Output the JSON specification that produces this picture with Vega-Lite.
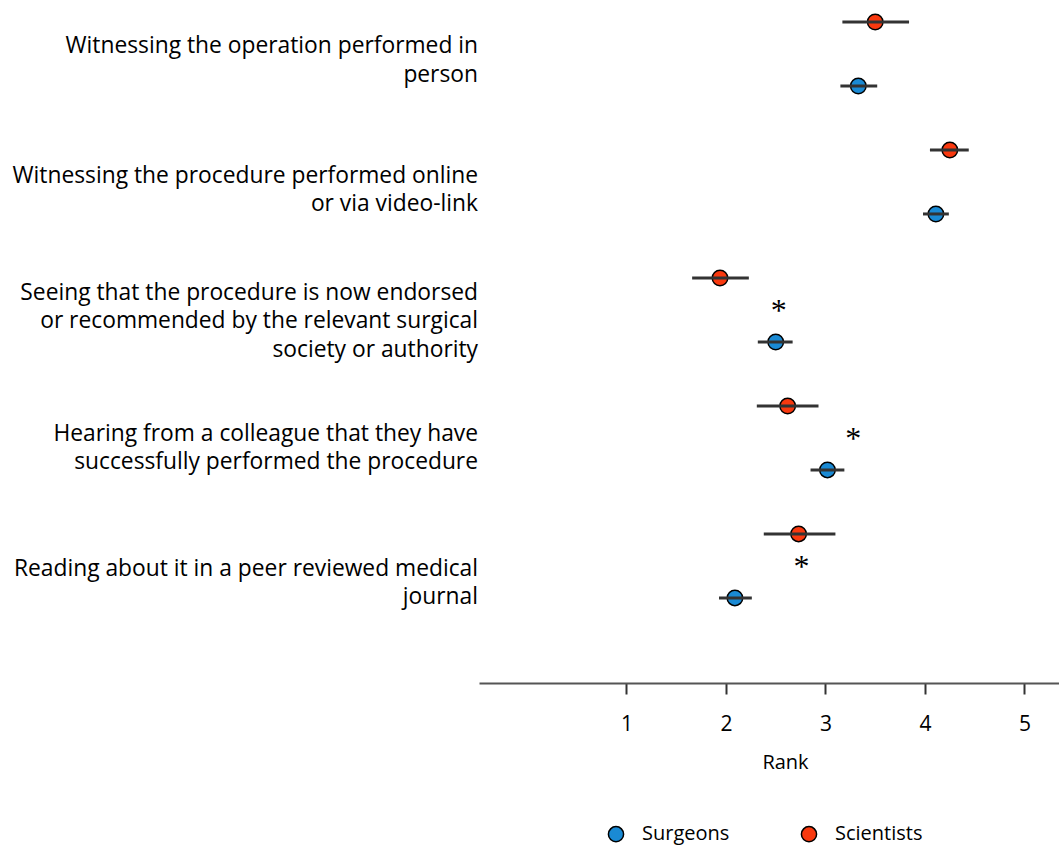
{
  "$schema": "https://vega.github.io/schema/vega-lite/v6.json",
  "width": 580,
  "height": 683,
  "autosize": {"type": "none"},
  "padding": {"left": 479, "top": 0, "right": 0, "bottom": 162},
  "background": "white",
  "config": {"view": {"stroke": null}, "font": "Open Sans"},
  "datasets": {
    "est": [
      {"item": "Witnessing the operation performed in person", "group": "Scientists", "row": 1, "mean": 3.50, "lo": 3.17, "hi": 3.84},
      {"item": "Witnessing the operation performed in person", "group": "Surgeons", "row": 2, "mean": 3.33, "lo": 3.15, "hi": 3.52},
      {"item": "Witnessing the procedure performed online or via video-link", "group": "Scientists", "row": 3, "mean": 4.25, "lo": 4.05, "hi": 4.44},
      {"item": "Witnessing the procedure performed online or via video-link", "group": "Surgeons", "row": 4, "mean": 4.11, "lo": 3.98, "hi": 4.24},
      {"item": "Seeing that the procedure is now endorsed or recommended by the relevant surgical society or authority", "group": "Scientists", "row": 5, "mean": 1.94, "lo": 1.66, "hi": 2.23},
      {"item": "Seeing that the procedure is now endorsed or recommended by the relevant surgical society or authority", "group": "Surgeons", "row": 6, "mean": 2.50, "lo": 2.32, "hi": 2.67},
      {"item": "Hearing from a colleague that they have successfully performed the procedure", "group": "Scientists", "row": 7, "mean": 2.62, "lo": 2.31, "hi": 2.93},
      {"item": "Hearing from a colleague that they have successfully performed the procedure", "group": "Surgeons", "row": 8, "mean": 3.02, "lo": 2.85, "hi": 3.19},
      {"item": "Reading about it in a peer reviewed medical journal", "group": "Scientists", "row": 9, "mean": 2.73, "lo": 2.38, "hi": 3.10},
      {"item": "Reading about it in a peer reviewed medical journal", "group": "Surgeons", "row": 10, "mean": 2.09, "lo": 1.93, "hi": 2.26}
    ],
    "sig": [
      {"row": 5.5, "x": 2.53, "mark": "*"},
      {"row": 7.5, "x": 3.28, "mark": "*"},
      {"row": 9.5, "x": 2.76, "mark": "*"}
    ],
    "labels": [
      {"row": 1.375, "label": "Witnessing the operation performed in\nperson"},
      {"row": 3.406, "label": "Witnessing the procedure performed online\nor via video-link"},
      {"row": 5.234, "label": "Seeing that the procedure is now endorsed\nor recommended by the relevant surgical\nsociety or authority"},
      {"row": 7.4375, "label": "Hearing from a colleague that they have\nsuccessfully performed the procedure"},
      {"row": 9.547, "label": "Reading about it in a peer reviewed medical\njournal"}
    ]
  },
  "layer": [
    {
      "data": {"name": "est"},
      "mark": {"type": "point", "shape": "circle", "filled": true, "size": 240, "stroke": "black", "strokeWidth": 1.5, "opacity": 1},
      "encoding": {
        "x": {
          "field": "mean", "type": "quantitative",
          "scale": {"domain": [-0.482, 5.347], "nice": false, "zero": false},
          "axis": {
            "values": [1, 2, 3, 4, 5], "format": "d", "grid": false, "labelFlush": false, "labelOverlap": false,
            "domainColor": "#555555", "domainWidth": 2, "domainOpacity": 1,
            "tickColor": "#333333", "tickWidth": 2, "tickSize": 11, "tickOpacity": 1,
            "labelFontSize": 21, "labelColor": "black", "labelPadding": 19,
            "title": "Rank", "titleFontSize": 20, "titleFontWeight": "normal", "titleColor": "black",
            "titlePadding": 18, "titleX": 306
          }
        },
        "y": {
          "field": "row", "type": "quantitative",
          "scale": {"domain": [0.656, 11.33], "reverse": true, "nice": false, "zero": false},
          "axis": null
        },
        "fill": {
          "field": "group", "type": "nominal",
          "scale": {"domain": ["Surgeons", "Scientists"], "range": ["#1a8ad4", "#f9390f"]},
          "legend": {
            "title": null, "orient": "none", "direction": "horizontal",
            "legendX": 127, "legendY": 824, "padding": 0,
            "symbolType": "circle", "symbolSize": 230, "symbolStrokeColor": "black", "symbolStrokeWidth": 1.5,
            "symbolOpacity": 1,
            "labelFontSize": 20, "labelColor": "black", "labelOffset": 16, "columnPadding": 68
          }
        }
      }
    },
    {
      "data": {"name": "est"},
      "mark": {"type": "rule", "color": "#333333", "strokeWidth": 3},
      "encoding": {
        "x": {"field": "lo", "type": "quantitative"},
        "x2": {"field": "hi"},
        "y": {"field": "row", "type": "quantitative"}
      }
    },
    {
      "data": {"name": "sig"},
      "mark": {"type": "text", "font": "Liberation Serif", "fontSize": 32, "baseline": "alphabetic", "align": "center", "dy": 11, "color": "black"},
      "encoding": {
        "x": {"field": "x", "type": "quantitative"},
        "y": {"field": "row", "type": "quantitative"},
        "text": {"field": "mark"}
      }
    },
    {
      "data": {"name": "labels"},
      "mark": {"type": "text", "align": "right", "baseline": "middle", "fontSize": 22.8, "lineHeight": 28.5, "lineBreak": "\n", "color": "black", "dx": -1},
      "encoding": {
        "x": {"datum": -0.482},
        "y": {"field": "row", "type": "quantitative"},
        "text": {"field": "label"}
      }
    }
  ]
}
